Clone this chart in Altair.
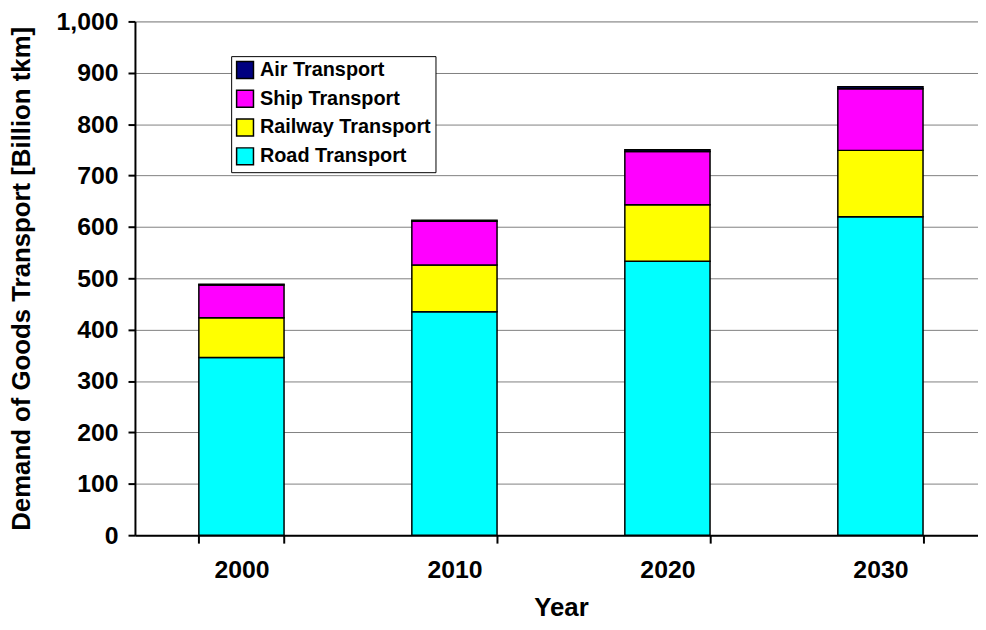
import altair as alt
import pandas as pd

years = ["2000", "2010", "2020", "2030"]
modes = ["Air Transport", "Ship Transport", "Railway Transport", "Road Transport"]
colors = ["#000080", "#FF00FF", "#FFFF00", "#00FFFF"]
stack_order = {"Road Transport": 1, "Railway Transport": 2, "Ship Transport": 3, "Air Transport": 4}

road = [346, 435, 533, 620]
railway = [77, 91, 110, 129]
ship = [64, 85, 104, 120]
air = [1.5, 2, 3, 4]

series = {
    "Road Transport": road,
    "Railway Transport": railway,
    "Ship Transport": ship,
    "Air Transport": air,
}
rows = []
for m, vals in series.items():
    for y, v in zip(years, vals):
        rows.append({"Year": y, "Mode": m, "Value": v, "ord": stack_order[m]})
df = pd.DataFrame(rows)

FONT = "Arial"

chart = alt.Chart(df).mark_bar(stroke="black", strokeWidth=1.5).encode(
    x=alt.X(
        "Year:N",
        sort=years,
        scale=alt.Scale(range=[0, 859], paddingInner=0.6, paddingOuter=0.3),
        axis=alt.Axis(
            title="Year",
            labelAngle=0,
            labelFont=FONT,
            labelFontSize=25,
            labelFontWeight="bold",
            labelColor="black",
            labelPadding=15,
            titleFont=FONT,
            titleFontSize=26,
            titleFontWeight="bold",
            titleColor="black",
            titlePadding=12,
            domainColor="black",
            domainWidth=2,
            tickColor="black",
            tickWidth=2,
            tickSize=8,
            tickBand="extent",
            grid=False,
        ),
    ),
    y=alt.Y(
        "Value:Q",
        stack="zero",
        scale=alt.Scale(domain=[0, 1000], nice=False),
        axis=alt.Axis(
            title="Demand of Goods Transport [Billion tkm]",
            values=list(range(0, 1001, 100)),
            format=",d",
            labelFont=FONT,
            labelFontSize=25,
            labelFontWeight="bold",
            labelColor="black",
            labelPadding=10,
            titleFont=FONT,
            titleFontSize=26,
            titleFontWeight="bold",
            titleColor="black",
            titlePadding=22,
            domainColor="black",
            domainWidth=2,
            tickColor="black",
            tickWidth=2,
            tickSize=7,
            grid=True,
            gridColor="#808080",
            gridWidth=1,
        ),
    ),
    color=alt.Color(
        "Mode:N",
        scale=alt.Scale(domain=modes, range=colors),
        legend=alt.Legend(
            title=None,
            orient="none",
            legendX=97,
            legendY=35,
            fillColor="white",
            strokeColor="black",
            padding=4,
            symbolType="square",
            symbolSize=289,
            symbolStrokeColor="black",
            symbolStrokeWidth=1.5,
            labelFont=FONT,
            labelFontSize=20,
            labelFontWeight="bold",
            labelColor="black",
            labelOffset=5,
            labelLimit=400,
            rowPadding=5,
        ),
    ),
    order=alt.Order("ord:Q", sort="ascending"),
).properties(
    width=850,
    height=518,
    autosize=alt.AutoSizeParams(type="none"),
    padding={"left": 128, "top": 11, "right": 0, "bottom": 85},
).configure_view(stroke=None).configure(background="white")

chart.save("out.html", embed_options={"renderer": "svg", "actions": False})
